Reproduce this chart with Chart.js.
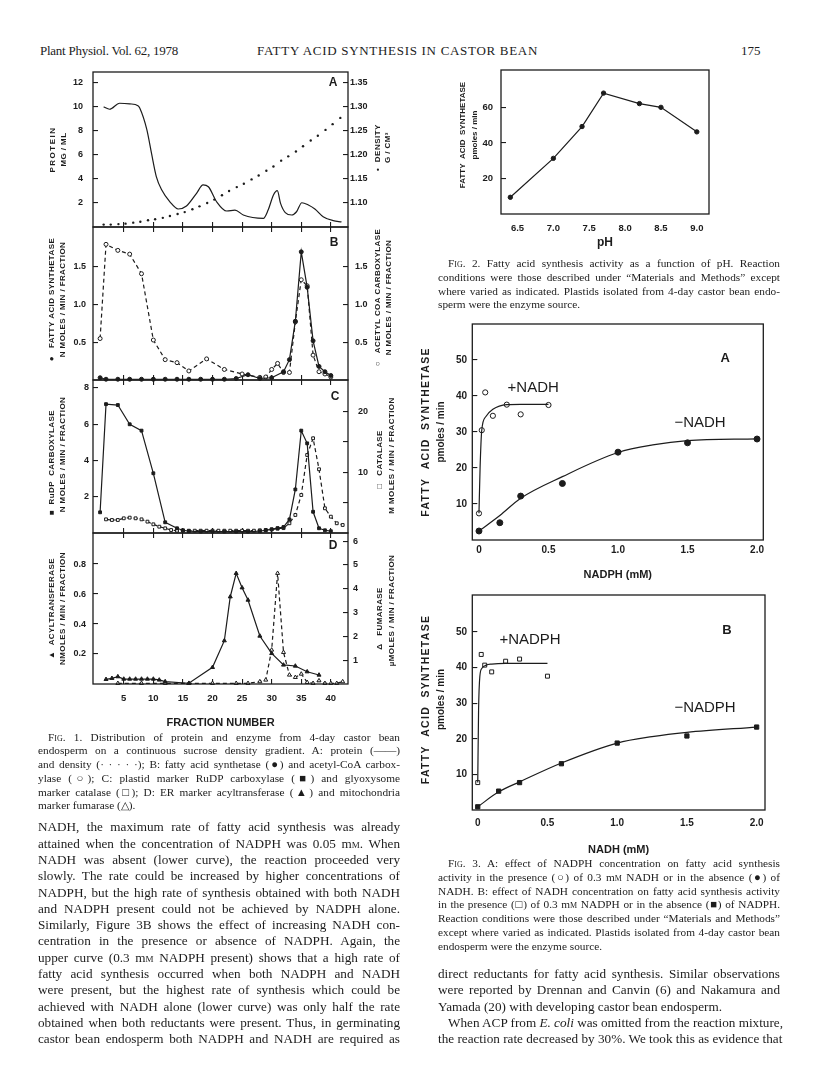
<!DOCTYPE html>
<html>
<head>
<meta charset="utf-8">
<title>Plant Physiol. Vol. 62, 1978 - p. 175</title>
<script src="https://cdn.jsdelivr.net/npm/chart.js@4.4.1/dist/chart.umd.min.js"></script>
<style>
  body { margin: 0; background: #fff; }
  #page { position: relative; width: 816px; height: 1071px; overflow: hidden; color: #1c1c1c;
          font-family: "Liberation Serif", "Times New Roman", serif; }
  canvas { position: absolute; }
  .abs { position: absolute; white-space: nowrap; }
  .hdr { font-size: 13px; top: 43px; line-height: 16px; }
  .blk { position: absolute; }
  .ln { white-space: nowrap; text-align: justify; text-align-last: justify; }
  .ln.end { text-align-last: left; }
  .ind { padding-left: 10px; }
  .cap { font-size: 11.3px; }
  .cap .ln { height: 13.8px; line-height: 13.8px; }
  .txt { font-size: 13.2px; }
  .txt .ln { height: 16.3px; line-height: 16.3px; }
  .sc { font-variant: small-caps; }
</style>
</head>
<body>
<div id="page">
  <div class="abs hdr" style="left:40px; letter-spacing:-0.25px">Plant Physiol. Vol. 62, 1978</div>
  <div class="abs hdr" style="left:257px; letter-spacing:0.7px">FATTY ACID SYNTHESIS IN CASTOR BEAN</div>
  <div class="abs hdr" style="left:741px">175</div>

  <canvas id="fig1a" width="370" height="161" style="left:30px; top:69px"></canvas>
  <canvas id="fig1b" width="370" height="159" style="left:30px; top:224px"></canvas>
  <canvas id="fig1c" width="370" height="159" style="left:30px; top:377px"></canvas>
  <canvas id="fig1d" width="370" height="202" style="left:30px; top:530px"></canvas>

  <canvas id="fig2" width="280" height="192" style="left:440px; top:60px"></canvas>
  <canvas id="fig3a" width="365" height="275" style="left:415px; top:310px"></canvas>
  <canvas id="fig3b" width="365" height="275" style="left:415px; top:585px"></canvas>

  <div class="blk cap" style="left:38px; top:730.5px; width:362px">
    <div class="ln ind"><span class="sc">Fig</span>. 1. Distribution of protein and enzyme from 4-day castor bean</div>
    <div class="ln">endosperm on a continuous sucrose density gradient. A: protein (——)</div>
    <div class="ln">and density (· · · · ·); B: fatty acid synthetase (●) and acetyl-CoA carbox-</div>
    <div class="ln">ylase (○); C: plastid marker RuDP carboxylase (■) and glyoxysome</div>
    <div class="ln">marker catalase (□); D: ER marker acyltransferase (▲) and mitochondria</div>
    <div class="ln end">marker fumarase (△).</div>
  </div>

  <div class="blk txt" style="left:38px; top:819.4px; width:362px">
    <div class="ln">NADH, the maximum rate of fatty acid synthesis was already</div>
    <div class="ln">attained when the concentration of NADPH was 0.05 m<span class="sc">m</span>. When</div>
    <div class="ln">NADH was absent (lower curve), the reaction proceeded very</div>
    <div class="ln">slowly. The rate could be increased by higher concentrations of</div>
    <div class="ln">NADPH, but the high rate of synthesis obtained with both NADH</div>
    <div class="ln">and NADPH present could not be achieved by NADPH alone.</div>
    <div class="ln">Similarly, Figure 3B shows the effect of increasing NADH con-</div>
    <div class="ln">centration in the presence or absence of NADPH. Again, the</div>
    <div class="ln">upper curve (0.3 m<span class="sc">m</span> NADPH present) shows that a high rate of</div>
    <div class="ln">fatty acid synthesis occurred when both NADPH and NADH</div>
    <div class="ln">were present, but the highest rate of synthesis which could be</div>
    <div class="ln">achieved with NADH alone (lower curve) was only half the rate</div>
    <div class="ln">obtained when both reductants were present. Thus, in germinating</div>
    <div class="ln">castor bean endosperm both NADPH and NADH are required as</div>
  </div>

  <div class="blk cap" style="left:438px; top:257px; width:342px">
    <div class="ln ind"><span class="sc">Fig</span>. 2. Fatty acid synthesis activity as a function of pH. Reaction</div>
    <div class="ln">conditions were those described under “Materials and Methods” except</div>
    <div class="ln">where varied as indicated. Plastids isolated from 4-day castor bean endo-</div>
    <div class="ln end">sperm were the enzyme source.</div>
  </div>

  <div class="blk cap" style="left:438px; top:857px; width:342px">
    <div class="ln ind"><span class="sc">Fig</span>. 3. A: effect of NADPH concentration on fatty acid synthesis</div>
    <div class="ln">activity in the presence (○) of 0.3 m<span class="sc">m</span> NADH or in the absence (●) of</div>
    <div class="ln">NADH. B: effect of NADH concentration on fatty acid synthesis activity</div>
    <div class="ln">in the presence (□) of 0.3 m<span class="sc">m</span> NADPH or in the absence (■) of NADPH.</div>
    <div class="ln">Reaction conditions were those described under “Materials and Methods”</div>
    <div class="ln">except where varied as indicated. Plastids isolated from 4-day castor bean</div>
    <div class="ln end">endosperm were the enzyme source.</div>
  </div>

  <div class="blk txt" style="left:438px; top:966.2px; width:342px">
    <div class="ln">direct reductants for fatty acid synthesis. Similar observations</div>
    <div class="ln">were reported by Drennan and Canvin (6) and Nakamura and</div>
    <div class="ln end">Yamada (20) with developing castor bean endosperm.</div>
    <div class="ln ind">When ACP from <i>E. coli</i> was omitted from the reaction mixture,</div>
    <div class="ln">the reaction rate decreased by 30%. We took this as evidence that</div>
  </div>
</div>

<script>
const INK = '#1c1c1c';

// ---- Fig. 1: sucrose gradient, fraction number on x ----
const fracTicks = [5, 10, 15, 20, 25, 30, 35, 40];

// A: protein (mg/ml) and density (g/cm3)
const proteinFrac = [1.6, 2.6, 4.3, 6.0, 7.4, 7.7, 8.9, 9.7, 10.5, 11.4, 12.8, 14.2, 15.6, 17.3, 18.4, 19.3, 20.7, 22.4, 23.8, 25.2, 28.6, 29.4, 30.3, 30.95, 31.5, 32.3, 33.4, 34.2, 35.1, 36.2, 37.3, 38.7, 40.4, 41.8];
const proteinMg   = [10.0, 9.8, 10.3, 10.25, 10.1, 9.9, 8.1, 6.1, 4.2, 3.1, 2.1, 1.5, 1.75, 2.8, 3.5, 3.35, 2.1, 1.33, 1.41, 1.0, 0.72, 1.41, 2.66, 3.02, 1.97, 1.2, 1.0, 1.27, 2.02, 1.83, 1.5, 0.86, 0.53, 0.42];
const densityFrac = [1.6, 2.8, 4.1, 5.3, 6.6, 7.8, 9.1, 10.3, 11.6, 12.8, 14.1, 15.3, 16.6, 17.8, 19.1, 20.3, 21.6, 22.8, 24.1, 25.3, 26.6, 27.8, 29.1, 30.3, 31.6, 32.8, 34.1, 35.3, 36.6, 37.8, 39.1, 40.3, 41.6];
const densityG    = [1.055, 1.055, 1.056, 1.057, 1.059, 1.061, 1.064, 1.066, 1.069, 1.073, 1.077, 1.081, 1.087, 1.093, 1.100, 1.107, 1.116, 1.125, 1.133, 1.140, 1.149, 1.157, 1.167, 1.176, 1.188, 1.197, 1.207, 1.218, 1.230, 1.240, 1.252, 1.264, 1.277];
const proteinTicks = [2, 4, 6, 8, 10, 12];
const densityTicks = [1.10, 1.15, 1.20, 1.25, 1.30, 1.35];

// B: fatty acid synthetase (filled) and acetyl CoA carboxylase (open)
const fasFrac = [1, 2, 4, 6, 8, 10, 12, 14, 16, 18, 20, 22, 24, 26, 28, 30, 32, 33, 34, 35, 36, 37, 38, 39, 40];
const fasRate = [0.03, 0.01, 0.01, 0.01, 0.01, 0.01, 0.01, 0.01, 0.01, 0.01, 0.01, 0.01, 0.02, 0.07, 0.02, 0.03, 0.11, 0.27, 0.78, 1.70, 1.23, 0.52, 0.18, 0.11, 0.06];
const accFrac = [1, 2, 4, 6, 8, 10, 12, 14, 16, 19, 22, 25, 28, 29, 30, 31, 32, 33, 34, 35, 36, 37, 38, 39, 40];
const accRate = [0.55, 1.80, 1.72, 1.67, 1.41, 0.53, 0.27, 0.23, 0.12, 0.28, 0.14, 0.08, 0.035, 0.04, 0.14, 0.22, 0.10, 0.10, 0.77, 1.33, 1.25, 0.33, 0.11, 0.08, 0.04];
const bTicks = [0.5, 1.0, 1.5];

// C: RuDP carboxylase (filled squares) and catalase (open squares)
const rudpFrac = [1, 2, 4, 6, 8, 10, 12, 14, 15, 16, 18, 20, 22, 24, 26, 28, 29, 30, 31, 32, 33, 34, 35, 36, 37, 38, 39, 40];
const rudpRate = [1.14, 7.1, 7.05, 5.99, 5.64, 3.29, 0.59, 0.26, 0.15, 0.1, 0.08, 0.08, 0.08, 0.08, 0.08, 0.1, 0.15, 0.2, 0.27, 0.33, 0.75, 2.4, 5.64, 4.94, 1.17, 0.26, 0.15, 0.1];
const catFrac = [2, 3, 4, 5, 6, 7, 8, 9, 10, 11, 12, 13, 14, 15, 16, 17, 18, 19, 20, 21, 22, 23, 24, 25, 26, 27, 28, 29, 30, 31, 32, 33, 34, 35, 36, 37, 38, 39, 40, 41, 42];
const catRate = [2.25, 2.14, 2.14, 2.42, 2.53, 2.42, 2.25, 1.87, 1.43, 1.04, 0.77, 0.49, 0.38, 0.38, 0.38, 0.38, 0.38, 0.38, 0.38, 0.38, 0.38, 0.38, 0.38, 0.38, 0.38, 0.38, 0.45, 0.5, 0.6, 0.7, 0.8, 1.6, 2.97, 6.26, 12.85, 15.6, 10.5, 4.07, 2.69, 1.6, 1.32];
const rudpTicks = [2, 4, 6, 8];
const catTicks = [5, 10, 15, 20];
const catLabelled = [10, 20];

// D: acyltransferase (filled triangles) and fumarase (open triangles)
const acylFrac = [2, 3, 4, 5, 6, 7, 8, 9, 10, 11, 12, 16, 20, 22, 23, 24, 25, 26, 28, 30, 32, 34, 36, 38];
const acylRate = [0.031, 0.038, 0.049, 0.033, 0.033, 0.033, 0.033, 0.033, 0.033, 0.027, 0.016, 0.005, 0.111, 0.289, 0.582, 0.738, 0.642, 0.56, 0.32, 0.204, 0.127, 0.12, 0.082, 0.06];
const fumFrac = [4, 8, 12, 16, 20, 24, 26, 28, 29, 30, 31, 32, 33, 34, 35, 36, 37, 38, 39, 40, 41, 42];
const fumRate = [0.03, 0.03, 0.03, 0.03, 0.03, 0.03, 0.03, 0.1, 0.17, 1.43, 4.65, 1.33, 0.38, 0.28, 0.42, 0.07, 0.03, 0.14, 0.03, 0.03, 0.03, 0.1];
const acylTicks = [0.2, 0.4, 0.6, 0.8];
const fumTicks = [1, 2, 3, 4, 5, 6];

// ---- Fig. 2: activity vs pH ----
const phValues   = [6.4, 7.0, 7.4, 7.7, 8.2, 8.5, 9.0];
const phActivity = [9.4, 31.3, 49.2, 68.0, 62.1, 60.0, 46.2];
const phTicks = [6.5, 7.0, 7.5, 8.0, 8.5, 9.0];
const fig2YTicks = [20, 40, 60];

// ---- Fig. 3A: NADPH concentration, +/- NADH ----
const nadphConc    = [0, 0.02, 0.045, 0.1, 0.2, 0.3, 0.5];
const plusNadhRate = [7.4, 30.5, 41.0, 34.5, 37.6, 34.9, 37.5];
const plusNadhFitX = [0, 0.008, 0.02, 0.05, 0.1, 0.2, 0.3, 0.5];
const plusNadhFitY = [7.4, 20, 30.5, 34.3, 36.3, 37.6, 37.7, 37.7];
const nadphConcLow  = [0, 0.15, 0.3, 0.6, 1.0, 1.5, 2.0];
const minusNadhRate = [2.5, 4.8, 12.2, 15.7, 24.4, 27.0, 28.05];
const minusNadhFitX = [0, 0.15, 0.3, 0.6, 1.0, 1.25, 1.5, 2.0];
const minusNadhFitY = [2.5, 6.8, 11.6, 17.6, 24.3, 26.4, 27.6, 28.1];

// ---- Fig. 3B: NADH concentration, +/- NADPH ----
const nadhConc      = [0, 0.025, 0.05, 0.1, 0.2, 0.3, 0.5];
const plusNadphRate = [7.7, 43.7, 40.7, 38.8, 41.8, 42.4, 37.6];
const plusNadphFitX = [0, 0.006, 0.015, 0.03, 0.06, 0.1, 0.2, 0.5];
const plusNadphFitY = [7.7, 28, 37.5, 39.8, 40.7, 41.0, 41.2, 41.2];
const nadhConcLow    = [0, 0.15, 0.3, 0.6, 1.0, 1.5, 2.0];
const minusNadphRate = [0.9, 5.3, 7.7, 13.0, 18.8, 20.8, 23.3];
const minusNadphFitX = [0, 0.15, 0.3, 0.6, 1.0, 1.25, 1.5, 2.0];
const minusNadphFitY = [0.9, 5.1, 7.9, 13.2, 18.8, 20.6, 21.8, 23.3];
const concTicks = [0, 0.5, 1.0, 1.5, 2.0];
const rateTicks = [10, 20, 30, 40, 50];

// labels drawn inside / beside each plot
const SIDE = 'bold 8px "Liberation Sans"';
const F3 = 'bold 10.5px "Liberation Sans"';
const F3b = 'bold 10px "Liberation Sans"';
const extras = {
  fig1a: { letter: {text: 'A', dx: 15, dy: 11},
    side: [{text: 'PROTEIN', x: 23, sp: 1.5}, {text: 'MG / ML', x: 34, sp: 0.4},
           {text: '•  DENSITY', x: 348, dy: -2, sp: 0.5}, {text: 'G / CM³', x: 358, dy: -2, sp: 0.4}] },
  fig1b: { letter: {text: 'B', dx: 14, dy: 16},
    side: [{text: '●   FATTY ACID SYNTHETASE', x: 22, dy: -4, sp: 0.4}, {text: 'N MOLES / MIN / FRACTION', x: 33, dy: -4, sp: 0.4},
           {text: '○   ACETYL COA CARBOXYLASE', x: 348, dy: -6, sp: 0.4}, {text: 'N MOLES / MIN / FRACTION', x: 359, dy: -6, sp: 0.4}] },
  fig1c: { letter: {text: 'C', dx: 13, dy: 17},
    side: [{text: '■  RuDP  CARBOXYLASE', x: 22, dy: 6, sp: 0.4}, {text: 'N MOLES / MIN / FRACTION', x: 33, dy: -2, sp: 0.4},
           {text: '□   CATALASE', x: 350, dy: 3, sp: 0.4}, {text: 'M MOLES / MIN / FRACTION', x: 362, dy: -1, sp: 0.4}] },
  fig1d: { letter: {text: 'D', dx: 15, dy: 13},
    side: [{text: '▲  ACYLTRANSFERASE', x: 22, sp: 0.4}, {text: 'NMOLES / MIN / FRACTION', x: 33, sp: 0.4},
           {text: 'Δ   FUMARASE', x: 350, dy: 10, sp: 0.4}, {text: 'µMOLES / MIN / FRACTION', x: 362, dy: 2, sp: 0.4}] },
  fig2: { side: [{text: 'FATTY  ACID  SYNTHETASE', x: 23, dy: -7}, {text: 'pmoles / min', x: 35, dy: -7}] },
  fig3a: { letter: {text: 'A', dx: 38, dy: 34, font: 'bold 13px "Liberation Sans"'},
    side: [{text: 'FATTY  ACID  SYNTHETASE', x: 11, font: F3, sp: 1.3}, {text: 'pmoles / min', x: 26, font: F3b}],
    notes: [{text: '+NADH', x: 0.39, y: 42.2}, {text: '−NADH', x: 1.59, y: 32.5}] },
  fig3b: { letter: {text: 'B', dx: 38, dy: 35, font: 'bold 13px "Liberation Sans"'},
    side: [{text: 'FATTY  ACID  SYNTHETASE', x: 11, dy: -3, font: F3, sp: 1.3}, {text: 'pmoles / min', x: 26, dy: -3, font: F3b}],
    notes: [{text: '+NADPH', x: 0.375, y: 47.8}, {text: '−NADPH', x: 1.63, y: 28.7}] }
};

const paper = {
  id: 'paper',
  afterDraw(chart) {
    const ex = extras[chart.canvas.id] || {};
    const ctx = chart.ctx, a = chart.chartArea;
    const midY = (a.top + a.bottom) / 2;
    ctx.save();
    ctx.strokeStyle = INK;
    ctx.lineWidth = 1.3;
    ctx.strokeRect(a.left, a.top, a.right - a.left, a.bottom - a.top);
    ctx.fillStyle = INK;
    ctx.textAlign = 'center';
    ctx.textBaseline = 'middle';
    (ex.side || []).forEach(t => {
      ctx.save();
      ctx.font = t.font || SIDE;
      ctx.letterSpacing = (t.sp || 0) + 'px';
      ctx.translate(t.x, midY + (t.dy || 0));
      ctx.rotate(-Math.PI / 2);
      ctx.fillText(t.text, 0, 0);
      ctx.restore();
    });
    if (ex.letter) {
      ctx.font = ex.letter.font || 'bold 12px "Liberation Sans"';
      ctx.fillText(ex.letter.text, a.right - ex.letter.dx, a.top + ex.letter.dy);
    }
    (ex.notes || []).forEach(n => {
      ctx.font = '15px "Liberation Sans"';
      ctx.fillText(n.text, chart.scales.x.getPixelForValue(n.x), chart.scales.y.getPixelForValue(n.y));
    });
    ctx.restore();
  }
};
Chart.register(paper);
Chart.defaults.font.family = '"Liberation Sans", Arial, sans-serif';
Chart.defaults.color = INK;

const pts = (xs, ys) => xs.map((x, i) => ({x: x, y: ys[i]}));
const fixed = list => s => { s.ticks = list.map(v => ({value: v})); };
function noPad(s) { s.paddingTop = 0; s.paddingBottom = 0; s.paddingLeft = 0; s.paddingRight = 0; }

function vAxis(pos, min, max, list, width, pad, fmt, size) {
  return {
    type: 'linear', position: pos, min: min, max: max,
    afterBuildTicks: fixed(list),
    afterFit: s => { s.width = width; noPad(s); },
    grid: {drawOnChartArea: false, tickLength: -5, color: INK, lineWidth: 1.1},
    border: {display: false},
    ticks: {padding: pad, color: INK, font: {size: size || 9, weight: 'bold'}, callback: fmt}
  };
}
function hAxis(pos, min, max, list, height, o) {
  o = o || {};
  return {
    type: 'linear', position: pos, min: min, max: max,
    afterBuildTicks: fixed(list),
    afterFit: s => { s.height = height; noPad(s); },
    grid: {drawOnChartArea: false, drawTicks: o.ticks !== false, tickLength: -5, color: INK, lineWidth: 1.1},
    border: {display: false},
    ticks: {display: !!o.labels, padding: o.pad || 0, color: INK, maxRotation: 0, autoSkip: false,
            font: {size: o.size || 9.5, weight: 'bold'}, callback: o.fmt},
    title: o.title ? {display: true, text: o.title, color: INK, font: {size: o.tsize || 11, weight: 'bold'},
                      padding: {top: 0, bottom: o.tpad || 0}} : {display: false}
  };
}

function line(xs, ys, o) {
  return Object.assign({
    data: pts(xs, ys), showLine: true, borderColor: INK, borderWidth: 1.2, tension: 0,
    pointRadius: 2, pointHoverRadius: 2, pointStyle: 'circle', pointBorderColor: INK,
    pointBorderWidth: 1, pointBackgroundColor: INK, clip: false, xAxisID: 'x', yAxisID: 'y'
  }, o || {});
}

function draw(id, datasets, scales, padding) {
  new Chart(document.getElementById(id), {
    type: 'scatter',
    data: {datasets: datasets},
    options: {
      responsive: false, maintainAspectRatio: false, animation: false, devicePixelRatio: 1, events: [],
      layout: {autoPadding: false, padding: padding},
      plugins: {legend: {display: false}, tooltip: {enabled: false}},
      scales: scales
    }
  });
}

const X0 = -0.2, X1 = 42.9;
const f1 = v => v.toFixed(1), f2 = v => v.toFixed(2), fi = v => String(v);

// Fig 1 A
draw('fig1a', [
  line(proteinFrac, proteinMg, {pointRadius: 0, cubicInterpolationMode: 'monotone'}),
  line(densityFrac, densityG, {showLine: false, pointRadius: 1.2, pointBorderWidth: 0, yAxisID: 'y2'})
], {
  x: hAxis('bottom', X0, X1, fracTicks, 0),
  y: vAxis('left', 0, 12.9, proteinTicks, 63, 15, fi),
  y2: vAxis('right', 1.05, 1.3725, densityTicks, 52, 7, f2)
}, {top: 3, bottom: 3, left: 0, right: 0});

// Fig 1 B
draw('fig1b', [
  line(fasFrac, fasRate),
  line(accFrac, accRate, {borderDash: [4, 3], pointBackgroundColor: '#fff', yAxisID: 'y2'})
], {
  x: hAxis('bottom', X0, X1, fracTicks, 0),
  xt: hAxis('top', X0, X1, fracTicks, 0),
  y: vAxis('left', 0, 2.03, bTicks, 63, 12, f1),
  y2: vAxis('right', 0, 2.03, bTicks, 52, 12, f1)
}, {top: 3, bottom: 3, left: 0, right: 0});

// Fig 1 C
draw('fig1c', [
  line(rudpFrac, rudpRate, {pointStyle: 'rect', pointRadius: 2}),
  line(catFrac, catRate, {pointStyle: 'rect', pointRadius: 2, borderDash: [4, 3], pointBackgroundColor: '#fff', yAxisID: 'y2'})
], {
  x: hAxis('bottom', X0, X1, fracTicks, 0),
  xt: hAxis('top', X0, X1, fracTicks, 0),
  y: vAxis('left', 0, 8.43, rudpTicks, 63, 9, fi),
  y2: vAxis('right', 0, 25.2, catTicks, 52, 15, v => catLabelled.includes(v) ? String(v) : '')
}, {top: 3, bottom: 3, left: 0, right: 0});

// Fig 1 D
draw('fig1d', [
  line(acylFrac, acylRate, {pointStyle: 'triangle', pointRadius: 2.3}),
  line(fumFrac, fumRate, {pointStyle: 'triangle', pointRadius: 2.3, borderDash: [4, 3], pointBackgroundColor: '#fff', yAxisID: 'y2'})
], {
  x: hAxis('bottom', X0, X1, fracTicks, 48, {labels: true, pad: 13.3, fmt: fi, title: 'FRACTION NUMBER', tsize: 11, tpad: 2.4}),
  xt: hAxis('top', X0, X1, fracTicks, 0),
  y: vAxis('left', 0, 1.007, acylTicks, 63, 12, f1),
  y2: vAxis('right', 0, 6.34, fumTicks, 52, 10, fi)
}, {top: 3, bottom: 0, left: 0, right: 0});

// Fig 2
draw('fig2', [
  line(phValues, phActivity, {pointRadius: 2.2})
], {
  x: hAxis('bottom', 6.27, 9.17, phTicks, 38, {ticks: false, labels: true, pad: 8.3, fmt: f1, title: 'pH', tsize: 12, tpad: 1.8}),
  y: vAxis('left', 0, 81, fig2YTicks, 61, 13, fi, 9.5)
}, {top: 10, bottom: 0, left: 0, right: 11});

// Fig 3 A
draw('fig3a', [
  line(plusNadhFitX, plusNadhFitY, {pointRadius: 0, cubicInterpolationMode: 'monotone'}),
  line(nadphConc, plusNadhRate, {showLine: false, pointRadius: 2.6, pointBackgroundColor: '#fff'}),
  line(minusNadhFitX, minusNadhFitY, {pointRadius: 0, cubicInterpolationMode: 'monotone'}),
  line(nadphConcLow, minusNadhRate, {showLine: false, pointRadius: 3})
], {
  x: hAxis('bottom', -0.048, 2.045, concTicks, 45, {ticks: false, labels: true, pad: 4, size: 10,
       fmt: v => v === 0 ? '0' : v.toFixed(1), title: 'NADPH (mM)', tsize: 11, tpad: 3.4}),
  y: vAxis('left', 0, 60, rateTicks, 57.3, 10.3, fi, 10)
}, {top: 14, bottom: 0, left: 0, right: 16.7});

// Fig 3 B
draw('fig3b', [
  line(plusNadphFitX, plusNadphFitY, {pointRadius: 0, cubicInterpolationMode: 'monotone'}),
  line(nadhConc, plusNadphRate, {showLine: false, pointStyle: 'rect', pointRadius: 2.8, pointBackgroundColor: '#fff'}),
  line(minusNadphFitX, minusNadphFitY, {pointRadius: 0, cubicInterpolationMode: 'monotone'}),
  line(nadhConcLow, minusNadphRate, {showLine: false, pointStyle: 'rect', pointRadius: 3})
], {
  x: hAxis('bottom', -0.039, 2.06, concTicks, 50, {ticks: false, labels: true, pad: 7, size: 10,
       fmt: v => v === 0 ? '0' : v.toFixed(1), title: 'NADH (mM)', tsize: 11, tpad: 3.4}),
  y: vAxis('left', 0, 60.4, rateTicks, 57.3, 10.3, fi, 10)
}, {top: 10, bottom: 0, left: 0, right: 15});
</script>
</body>
</html>
